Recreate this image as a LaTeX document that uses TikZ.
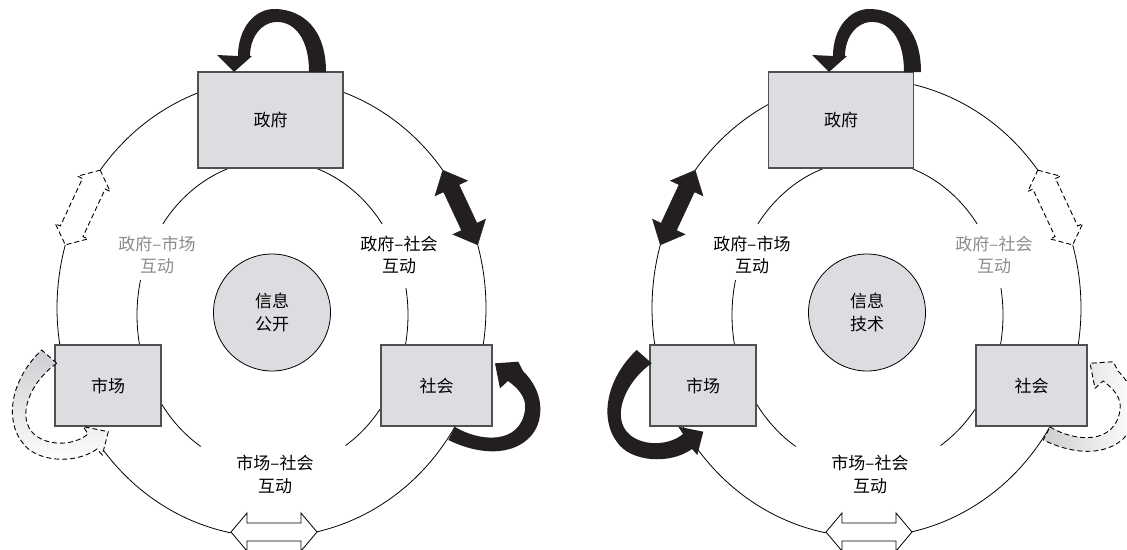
\documentclass[tikz,border=0pt]{standalone}
\usepackage{fontspec}
\newfontfamily\cjk{Noto Sans CJK SC}
\usetikzlibrary{calc}
\definecolor{boxgray}{RGB}{220,221,224}
\definecolor{boxline}{RGB}{80,80,80}
\definecolor{arrblack}{RGB}{35,31,32}
\definecolor{txtgray}{RGB}{140,140,140}
\definecolor{bandgray}{RGB}{205,206,209}
\newcommand\lbfont{\cjk\fontsize{17}{22.5}\selectfont}
% double arrow: #1 style, #2 name, #3 tip A, #4 tip B, #5 half shaft, #6 half head, #7 head length
\newcommand{\dblarrow}[7]{%
 \coordinate (#2-ha) at ($(#3)!#7!(#4)$);
 \coordinate (#2-hb) at ($(#4)!#7!(#3)$);
 \draw[#1] (#3) -- ($(#2-ha)!#6!90:(#4)$) -- ($(#2-ha)!#5!90:(#4)$)
   -- ($(#2-hb)!#5!-90:(#3)$) -- ($(#2-hb)!#6!-90:(#3)$) -- (#4)
   -- ($(#2-hb)!#6!90:(#3)$) -- ($(#2-hb)!#5!90:(#3)$)
   -- ($(#2-ha)!#5!-90:(#4)$) -- ($(#2-ha)!#6!-90:(#4)$) -- cycle;}
\def\govpath{(309,72) .. controls (309,30) and (287,18) .. (270,23) .. controls (258,27) and (250,40) .. (250,56) -- (252,56) -- (234,72) -- (217,55) -- (238,56) .. controls (238,28) and (255,8) .. (276,9) .. controls (302,10) and (326,28) .. (326,72) -- cycle}
\def\socpath{(455,427) .. controls (480,442) and (520,445) .. (525,410) .. controls (527,398) and (518,388) .. (508,381) -- (500,388.3) -- (495,363.3) -- (518.3,361.7) -- (523,371) .. controls (535,383) and (542,398) .. (540,415) .. controls (537,445) and (500,465) .. (448.3,440) -- cycle}
\def\mktpath{(56.7,363.3) .. controls (30,382) and (15,418) .. (35,435) .. controls (50,447) and (75,445) .. (88,434) -- (83.3,426.7) -- (108.3,431.7) -- (102.3,455) -- (97,449) .. controls (75,465) and (35,462) .. (22,442) .. controls (5,420) and (10,380) .. (41.7,350) -- cycle}
% common skeleton: #1 prefix, #2 core text, #3 x of government box centre
\newcommand{\skeleton}[3]{%
 \draw[ring] plot[domain=217:323,samples=90] ({271.5+214.5*cos(\x)},{308+229*sin(\x)});
 \draw[ring] plot[domain=-16:77.7,samples=90] ({271.5+214.5*cos(\x)},{308+229*sin(\x)});
 \draw[ring] plot[domain=100.9:196,samples=90] ({271.5+214.5*cos(\x)},{308+229*sin(\x)});
 \draw[ring] plot[domain=216:324,samples=90] ({272.5+135.5*cos(\x)},{315+155*sin(\x)});
 \draw[ring] plot[domain=122:193,samples=60] ({272.5+135.5*cos(\x)},{315+155*sin(\x)});
 \draw[ring] plot[domain=-10:57.4,samples=60] ({272.5+135.5*cos(\x)},{315+155*sin(\x)});
 \node[agent,minimum width=145pt,minimum height=96pt] (#1gov) at (#3,120) {政府};
 \node[agent,minimum width=106pt,minimum height=81pt] (#1mkt) at (108,385.5) {市场};
 \node[agent,minimum width=111pt,minimum height=81pt] (#1soc) at (436.5,385.5) {社会};
 \node[core] (#1core) at (272,312.5) {#2};
 \node[lbl] (#1ms) at (275,474.5) {市场–社会\\互动};
 \coordinate (#1ul1) at ({271.5+214.5*cos(217)},{308+229*sin(217)});
 \coordinate (#1ul2) at ({271.5+214.5*cos(196)},{308+229*sin(196)});
 \coordinate (#1ur1) at ({271.5+214.5*cos(-37)},{308+229*sin(-37)});
 \coordinate (#1ur2) at ({271.5+214.5*cos(-16)},{308+229*sin(-16)});
 \coordinate (#1b1) at (231,532);
 \coordinate (#1b2) at (317,532);
 \dblarrow{whitearr}{#1bt}{#1b1}{#1b2}{9pt}{19pt}{16pt}
 \fill[arrblack] \govpath;
}
\begin{document}
\begin{tikzpicture}[x=1pt,y=-1pt,
  agent/.style={draw=boxline,line width=1.1pt,fill=boxgray,inner sep=0pt,font=\lbfont},
  core/.style={circle,draw=black,line width=0.8pt,fill=boxgray,minimum size=117pt,inner sep=0pt,align=center,font=\lbfont},
  ring/.style={line width=0.8pt,black},
  lbl/.style={align=center,font=\lbfont},
  lblgray/.style={lbl,text=txtgray},
  blackarr/.style={fill=arrblack,draw=arrblack,line width=0.4pt,line join=miter},
  dasharr/.style={draw=black,line width=0.9pt,dash pattern=on 5pt off 3pt},
  whitearr/.style={fill=white,draw=black,line width=0.8pt,line join=miter},
]
\useasboundingbox (0,0) rectangle (1127,549);
% ---------------- left diagram ----------------
\begin{scope}
 \skeleton{L}{信息\\公开}{270.5}
 \node[lblgray] (Lgm) at (157,255) {政府–市场\\互动};
 \node[lbl] (Lgs) at (399,255) {政府–社会\\互动};
 \dblarrow{dasharr,fill=white}{Lul}{Lul1}{Lul2}{12.5pt}{18pt}{15pt}
 \dblarrow{blackarr}{Lur}{Lur1}{Lur2}{8.5pt}{18pt}{20pt}
 \draw[dasharr,top color=bandgray,bottom color=white] \mktpath;
 \fill[arrblack] \socpath;
\end{scope}
% ---------------- right diagram ----------------
\begin{scope}[shift={(595,0)}]
 \skeleton{R}{信息\\技术}{246}
 \node[lbl] (Rgm) at (157,255) {政府–市场\\互动};
 \node[lblgray] (Rgs) at (399,255) {政府–社会\\互动};
 \dblarrow{blackarr}{Rul}{Rul1}{Rul2}{8.5pt}{18pt}{20pt}
 \dblarrow{dasharr,fill=white}{Rur}{Rur1}{Rur2}{12.5pt}{18pt}{15pt}
 \fill[arrblack] \mktpath;
 \draw[dasharr,left color=bandgray,right color=white] \socpath;
\end{scope}
\end{tikzpicture}
\end{document}
